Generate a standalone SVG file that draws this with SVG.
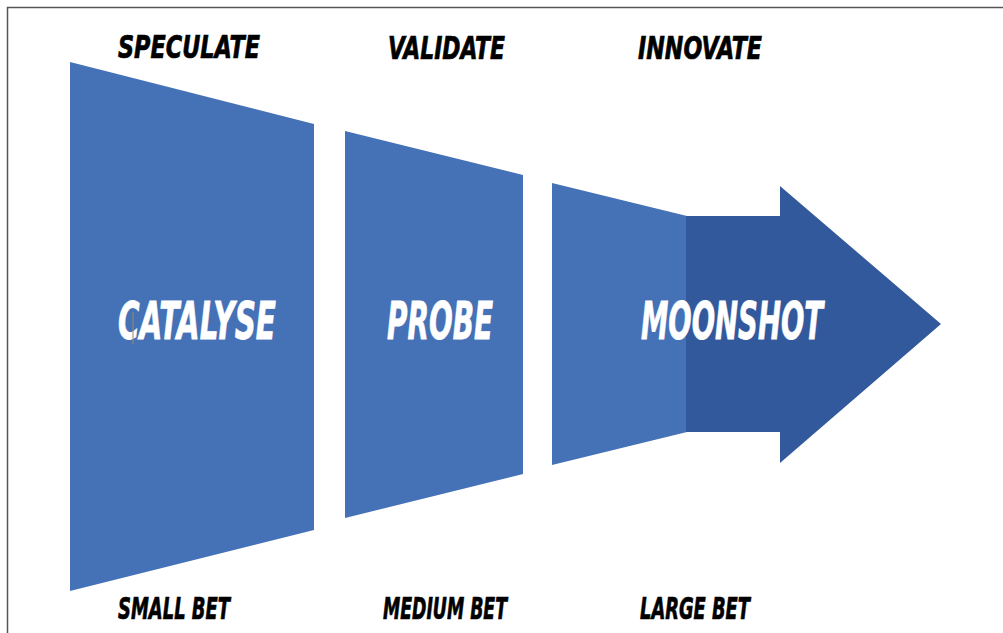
<svg xmlns="http://www.w3.org/2000/svg" width="1003" height="633" viewBox="0 0 1003 633">
  <style>
    .stage { fill: #4571B6; }
    .head { fill: #33599D; }
    .label { font-family: "DejaVu Sans Condensed", "DejaVu Sans", "Liberation Sans", sans-serif; font-weight: bold; font-style: italic; }
    .top { font-size: 32px; fill: #000; stroke: #000; stroke-width: 0.7px; }
    .bottom { font-size: 31px; fill: #000; stroke: #000; stroke-width: 0.7px; }
    .name { font-size: 52px; fill: #FFFFFF; stroke: #FFFFFF; stroke-width: 0.8px; }
  </style>
  <rect width="1003" height="633" fill="#FFFFFF"/>
  <!-- frame -->
  <path d="M7.5 633 V7.5 H1003" fill="none" stroke="#555" stroke-width="1.5"/>

  <!-- phase headings -->
  <g id="headings" class="label top">
    <text x="118" y="58" textLength="142" lengthAdjust="spacingAndGlyphs">SPECULATE</text>
    <text x="388" y="59" textLength="117" lengthAdjust="spacingAndGlyphs">VALIDATE</text>
    <text x="638" y="59" textLength="124" lengthAdjust="spacingAndGlyphs">INNOVATE</text>
  </g>

  <g id="catalyse">
    <polygon class="stage" points="70,62 314,124 314,530 70,591"/>
    <text class="label name" x="118" y="339" textLength="158" lengthAdjust="spacingAndGlyphs">CATALYSE</text>
    <line x1="133" y1="312" x2="133" y2="344" stroke="#9C8A62" stroke-width="1"/>
  </g>

  <g id="probe">
    <polygon class="stage" points="345,131 523,175 523,474 345,518"/>
    <text class="label name" x="387" y="339" textLength="106" lengthAdjust="spacingAndGlyphs">PROBE</text>
  </g>

  <g id="moonshot">
    <polygon class="stage" points="552,183 687,216 687,432 552,465"/>
    <polygon class="head" points="686,216 780,216 780,186 941,324 780,463 780,432 686,432"/>
    <text class="label name" x="641" y="339" textLength="182" lengthAdjust="spacingAndGlyphs">MOONSHOT</text>
  </g>

  <!-- bet sizes -->
  <g id="bets" class="label bottom">
    <text x="118" y="619" textLength="112" lengthAdjust="spacingAndGlyphs">SMALL BET</text>
    <text x="383" y="619" textLength="124" lengthAdjust="spacingAndGlyphs">MEDIUM BET</text>
    <text x="640" y="619" textLength="110" lengthAdjust="spacingAndGlyphs">LARGE BET</text>
  </g>
</svg>
